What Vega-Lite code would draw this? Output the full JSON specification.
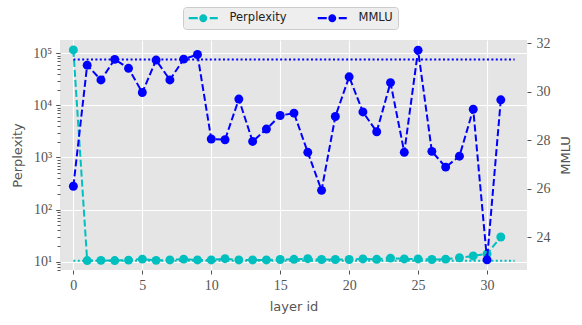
{
  "$schema": "https://vega.github.io/schema/vega-lite/v6.json",
  "width": 467,
  "height": 230,
  "autosize": {"type": "none"},
  "padding": {"left": 60, "top": 40, "right": 55, "bottom": 55},
  "background": "white",
  "config": {
    "view": {"fill": "#E5E5E5", "stroke": null},
    "axis": {
      "domain": false,
      "gridColor": "#FFFFFF",
      "gridWidth": 1.1,
      "tickColor": "#555555",
      "tickSize": 4,
      "labelColor": "#555555",
      "labelFont": "Liberation Serif",
      "labelFontSize": 14,
      "titleFont": "DejaVu Sans",
      "titleFontSize": 13,
      "titleFontWeight": "normal",
      "titleColor": "#555555"
    }
  },
  "datasets": {
    "ppl": [
      {"layer_id": 0, "value": 116000, "series": "Perplexity"},
      {"layer_id": 1, "value": 10.5, "series": "Perplexity"},
      {"layer_id": 2, "value": 10.6, "series": "Perplexity"},
      {"layer_id": 3, "value": 10.5, "series": "Perplexity"},
      {"layer_id": 4, "value": 10.7, "series": "Perplexity"},
      {"layer_id": 5, "value": 11.2, "series": "Perplexity"},
      {"layer_id": 6, "value": 10.6, "series": "Perplexity"},
      {"layer_id": 7, "value": 10.8, "series": "Perplexity"},
      {"layer_id": 8, "value": 11.2, "series": "Perplexity"},
      {"layer_id": 9, "value": 10.8, "series": "Perplexity"},
      {"layer_id": 10, "value": 10.8, "series": "Perplexity"},
      {"layer_id": 11, "value": 11.4, "series": "Perplexity"},
      {"layer_id": 12, "value": 10.8, "series": "Perplexity"},
      {"layer_id": 13, "value": 10.8, "series": "Perplexity"},
      {"layer_id": 14, "value": 10.8, "series": "Perplexity"},
      {"layer_id": 15, "value": 11.0, "series": "Perplexity"},
      {"layer_id": 16, "value": 11.1, "series": "Perplexity"},
      {"layer_id": 17, "value": 11.4, "series": "Perplexity"},
      {"layer_id": 18, "value": 11.0, "series": "Perplexity"},
      {"layer_id": 19, "value": 11.0, "series": "Perplexity"},
      {"layer_id": 20, "value": 11.0, "series": "Perplexity"},
      {"layer_id": 21, "value": 11.3, "series": "Perplexity"},
      {"layer_id": 22, "value": 11.1, "series": "Perplexity"},
      {"layer_id": 23, "value": 11.7, "series": "Perplexity"},
      {"layer_id": 24, "value": 11.3, "series": "Perplexity"},
      {"layer_id": 25, "value": 11.3, "series": "Perplexity"},
      {"layer_id": 26, "value": 11.0, "series": "Perplexity"},
      {"layer_id": 27, "value": 11.2, "series": "Perplexity"},
      {"layer_id": 28, "value": 11.9, "series": "Perplexity"},
      {"layer_id": 29, "value": 12.9, "series": "Perplexity"},
      {"layer_id": 30, "value": 14.1, "series": "Perplexity"},
      {"layer_id": 31, "value": 29.8, "series": "Perplexity"}
    ],
    "mmlu": [
      {"layer_id": 0, "value": 26.1, "series": "MMLU"},
      {"layer_id": 1, "value": 31.1, "series": "MMLU"},
      {"layer_id": 2, "value": 30.49, "series": "MMLU"},
      {"layer_id": 3, "value": 31.34, "series": "MMLU"},
      {"layer_id": 4, "value": 30.97, "series": "MMLU"},
      {"layer_id": 5, "value": 29.97, "series": "MMLU"},
      {"layer_id": 6, "value": 31.31, "series": "MMLU"},
      {"layer_id": 7, "value": 30.49, "series": "MMLU"},
      {"layer_id": 8, "value": 31.35, "series": "MMLU"},
      {"layer_id": 9, "value": 31.54, "series": "MMLU"},
      {"layer_id": 10, "value": 28.05, "series": "MMLU"},
      {"layer_id": 11, "value": 28.02, "series": "MMLU"},
      {"layer_id": 12, "value": 29.7, "series": "MMLU"},
      {"layer_id": 13, "value": 27.95, "series": "MMLU"},
      {"layer_id": 14, "value": 28.46, "series": "MMLU"},
      {"layer_id": 15, "value": 29.02, "series": "MMLU"},
      {"layer_id": 16, "value": 29.12, "series": "MMLU"},
      {"layer_id": 17, "value": 27.5, "series": "MMLU"},
      {"layer_id": 18, "value": 25.93, "series": "MMLU"},
      {"layer_id": 19, "value": 28.98, "series": "MMLU"},
      {"layer_id": 20, "value": 30.62, "series": "MMLU"},
      {"layer_id": 21, "value": 29.17, "series": "MMLU"},
      {"layer_id": 22, "value": 28.35, "series": "MMLU"},
      {"layer_id": 23, "value": 30.38, "series": "MMLU"},
      {"layer_id": 24, "value": 27.5, "series": "MMLU"},
      {"layer_id": 25, "value": 31.72, "series": "MMLU"},
      {"layer_id": 26, "value": 27.54, "series": "MMLU"},
      {"layer_id": 27, "value": 26.89, "series": "MMLU"},
      {"layer_id": 28, "value": 27.34, "series": "MMLU"},
      {"layer_id": 29, "value": 29.28, "series": "MMLU"},
      {"layer_id": 30, "value": 23.06, "series": "MMLU"},
      {"layer_id": 31, "value": 29.67, "series": "MMLU"}
    ],
    "ppl_ref": [{"start": 0, "end": 32, "value": 10.4}],
    "mmlu_ref": [{"start": 0, "end": 32, "value": 31.33}]
  },
  "layer": [
    {
      "encoding": {
        "y": {
          "field": "value",
          "type": "quantitative",
          "scale": {"type": "log", "domain": [6.92, 179900], "nice": false},
          "axis": {
            "orient": "left",
            "title": "Perplexity",
            "titlePadding": 8,
            "labelPadding": 4,
            "labelFont": "Liberation Serif",
            "labelOverlap": false,
            "values": [7, 8, 9, 10, 20, 30, 40, 50, 60, 70, 80, 90, 100, 200, 300, 400, 500, 600, 700, 800, 900, 1000, 2000, 3000, 4000, 5000, 6000, 7000, 8000, 9000, 10000, 20000, 30000, 40000, 50000, 60000, 70000, 80000, 90000, 100000],
            "labelExpr": "indexof([10,100,1000,10000,100000], datum.value) >= 0 ? '10' + ['¹','²','³','⁴','⁵'][round(log(datum.value)/LN10)-1] : ''",
            "gridOpacity": {"condition": {"test": "indexof([10,100,1000,10000,100000], datum.value) >= 0", "value": 1}, "value": 0},
            "tickSize": {"condition": {"test": "indexof([10,100,1000,10000,100000], datum.value) >= 0", "value": 4.3}, "value": 3}
          }
        }
      },
      "layer": [
        {
          "data": {"name": "ppl_ref"},
          "mark": {"type": "rule", "color": "#00BFBF", "strokeWidth": 2, "strokeDash": [2, 2.4]},
          "encoding": {
            "x": {"field": "start", "type": "quantitative", "title": "layer id"},
            "x2": {"field": "end"}
          }
        },
        {
          "data": {"name": "ppl"},
          "mark": {"type": "line", "color": "#00BFBF", "strokeWidth": 2, "strokeDash": [7, 3]},
          "encoding": {
            "x": {"field": "layer_id", "type": "quantitative", "title": "layer id"}
          }
        },
        {
          "data": {"name": "ppl"},
          "mark": {"type": "point", "filled": true, "opacity": 1, "size": 80},
          "encoding": {
            "x": {
              "field": "layer_id",
              "type": "quantitative",
              "title": "layer id",
              "scale": {"domain": [-0.97, 32.9], "nice": false, "zero": false},
              "axis": {"values": [0, 5, 10, 15, 20, 25, 30], "labelPadding": 4, "titlePadding": 8, "labelFont": "Liberation Serif"}
            },
            "color": {
              "field": "series",
              "type": "nominal",
              "scale": {"domain": ["Perplexity", "MMLU"], "range": ["#00BFBF", "#0000FF"]},
              "legend": {
                "orient": "none",
                "legendX": 123,
                "legendY": -33,
                "direction": "horizontal",
                "title": null,
                "symbolSize": 100,
                "symbolStrokeWidth": 0,
                "symbolOpacity": 1,
                "symbolType": "M-1,-0.22L0.8,-0.22L0.8,0.22L-1,0.22ZM3.2,-0.22L4.8,-0.22L4.8,0.22L3.2,0.22ZM2.7,0A0.8,0.8,0,1,1,1.1,0A0.8,0.8,0,1,1,2.7,0Z",
                "labelFont": "DejaVu Sans",
                "labelFontSize": 11.5,
                "labelColor": "#222222",
                "labelOffset": 30,
                "columnPadding": 30,
                "fillColor": "#EEEEEE",
                "strokeColor": "#CCCCCC",
                "cornerRadius": 3,
                "padding": 5
              }
            }
          }
        }
      ]
    },
    {
      "encoding": {
        "y": {
          "field": "value",
          "type": "quantitative",
          "scale": {"domain": [22.64, 32.14], "nice": false, "zero": false},
          "axis": {
            "orient": "right",
            "title": "MMLU",
            "titleAngle": 270,
            "titleX": 38,
            "titleY": 115,
            "titleAlign": "center",
            "titleBaseline": "middle",
            "labelPadding": 5,
            "labelFont": "Liberation Serif",
            "values": [24, 26, 28, 30, 32]
          }
        }
      },
      "layer": [
        {
          "data": {"name": "mmlu_ref"},
          "mark": {"type": "rule", "color": "#0000FF", "strokeWidth": 2, "strokeDash": [2, 2.4]},
          "encoding": {
            "x": {"field": "start", "type": "quantitative", "title": "layer id"},
            "x2": {"field": "end"}
          }
        },
        {
          "data": {"name": "mmlu"},
          "mark": {"type": "line", "color": "#0000FF", "strokeWidth": 2, "strokeDash": [7, 3]},
          "encoding": {
            "x": {"field": "layer_id", "type": "quantitative", "title": "layer id"}
          }
        },
        {
          "data": {"name": "mmlu"},
          "mark": {"type": "point", "filled": true, "opacity": 1, "size": 80, "color": "#0000FF"},
          "encoding": {
            "x": {"field": "layer_id", "type": "quantitative", "title": "layer id"}
          }
        }
      ]
    }
  ],
  "resolve": {"scale": {"y": "independent"}}
}
